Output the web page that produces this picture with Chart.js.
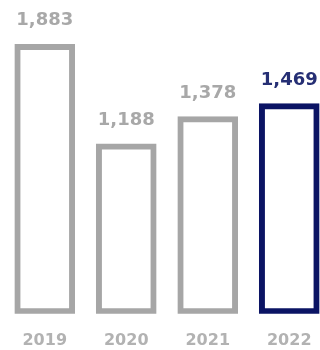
<!DOCTYPE html>
<html>
<head>
<meta charset="utf-8">
<script src="https://cdn.jsdelivr.net/npm/chart.js@4"></script>
<style>
  html, body { margin: 0; padding: 0; background: #fff; overflow: hidden; }
  #wrap { width: 320px; height: 350px; overflow: hidden; }
</style>
</head>
<body>
<div id="wrap"><canvas id="chart" width="332" height="371"></canvas></div>
<script>
const years = ['2019', '2020', '2021', '2022'];
const values = [1883, 1188, 1378, 1469];

const gray = '#a6a6a6';
const navy = '#0b1464';
const labelGray = '#a8a8a8';
const labelNavy = '#262f74';
const highlight = years.length - 1; // latest year in navy

const valueLabels = {
    id: 'valueLabels',
    afterDatasetsDraw(chart) {
        const ctx = chart.ctx;
        const meta = chart.getDatasetMeta(0);
        ctx.save();
        ctx.font = 'bold 18px "DejaVu Sans"';
        ctx.textAlign = 'center';
        ctx.textBaseline = 'alphabetic';
        meta.data.forEach((bar, i) => {
            ctx.fillStyle = i === highlight ? labelNavy : labelGray;
            ctx.fillText(values[i].toLocaleString('en-US'), bar.x, bar.y - 19);
        });
        ctx.restore();
    }
};

const ctx = document.getElementById('chart').getContext('2d');

const chart = new Chart(ctx, {
    type: 'bar',
    data: {
        labels: years,
        datasets: [{
            data: values,
            backgroundColor: '#ffffff',
            borderColor: years.map((y, i) => i === highlight ? navy : gray),
            borderWidth: 6,
            borderSkipped: false,
            barThickness: 60
        }]
    },
    options: {
        responsive: false,
        animation: false,
        layout: { padding: { left: 4, right: 2, top: 0, bottom: 4 } },
        plugins: {
            legend: { display: false },
            tooltip: { enabled: false }
        },
        scales: {
            x: {
                grid: { display: false, drawTicks: false },
                border: { display: false },
                ticks: {
                    color: '#b2b2b2',
                    padding: 17,
                    font: { family: 'DejaVu Sans', size: 16, weight: 'bold' }
                }
            },
            y: {
                display: false,
                min: 0,
                max: 2193
            }
        }
    },
    plugins: [valueLabels]
});
</script>
</body>
</html>
